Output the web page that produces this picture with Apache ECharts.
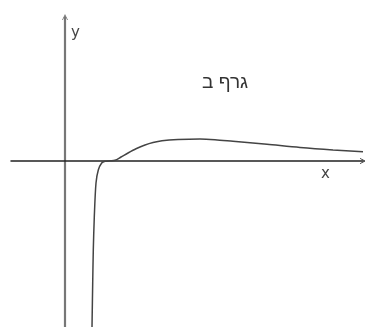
<!DOCTYPE html>
<html>
<head>
<meta charset="utf-8">
<script src="https://cdn.jsdelivr.net/npm/echarts@6/dist/echarts.min.js"></script>
<style>
  html, body { margin: 0; padding: 0; background: #fff; }
  #main { width: 365px; height: 327px; }
</style>
</head>
<body>
<div id="main"></div>
<script>
// curve (1 unit ~ 10px)
var xs = [2.7, 2.77, 2.83, 2.93, 3.1, 3.33, 3.67, 4.0, 4.5, 5.0, 5.6, 6.3, 7.1, 8.0, 8.8, 9.7, 11.3, 13.5, 15.0, 16.8, 18.5, 20.2, 23.5, 26.8, 29.8];
var ys = [-16.6, -12.2, -8.9, -5.6, -2.2, -0.9, -0.2, -0.03, 0.02, 0.07, 0.4, 0.8, 1.22, 1.6, 1.85, 2.03, 2.15, 2.2, 2.13, 1.97, 1.82, 1.67, 1.35, 1.1, 0.92];
var xRange = [-5.4, 29.8];
var yRange = [-16.6, 14.4];
var chartTitle = 'גרף ב';

var chevron = 'path://M0,10 L5,0 L10,10 L8.6,10 L5,2.8 L1.4,10 Z';

var myChart = echarts.init(document.getElementById('main'));
var points = xs.map(function (x, i) { return [x, ys[i]]; });

var option = {
    animation: false,
    backgroundColor: '#fff',
    grid: { left: 11, right: 2, top: 17, bottom: 0 },
    title: {
        text: chartTitle,
        left: 197,
        top: 68,
        textStyle: { fontFamily: 'Liberation Sans', fontSize: 19, fontWeight: 'normal', color: '#333' }
    },
    graphic: [
        { type: 'text', left: 71, top: 26, style: { text: 'y', font: '15px DejaVu Sans', fill: '#444' } },
        { type: 'text', left: 321, top: 167, style: { text: 'x', font: '15px DejaVu Sans', fill: '#444' } }
    ],
    xAxis: {
        type: 'value',
        min: xRange[0],
        max: xRange[1],
        axisLine: {
            onZero: true,
            symbol: ['none', chevron],
            symbolSize: [10, 6],
            lineStyle: { color: '#222', width: 1.5 }
        },
        axisTick: { show: false },
        axisLabel: { show: false },
        splitLine: { show: false }
    },
    yAxis: {
        type: 'value',
        min: yRange[0],
        max: yRange[1],
        axisLine: {
            onZero: true,
            symbol: ['none', chevron],
            symbolSize: [10, 6],
            lineStyle: { color: '#777', width: 2.2 }
        },
        axisTick: { show: false },
        axisLabel: { show: false },
        splitLine: { show: false }
    },
    series: [{
        type: 'line',
        data: points,
        smooth: 0.3,
        showSymbol: false,
        lineStyle: { color: '#444', width: 1.5 }
    }]
};
myChart.setOption(option);
</script>
</body>
</html>
